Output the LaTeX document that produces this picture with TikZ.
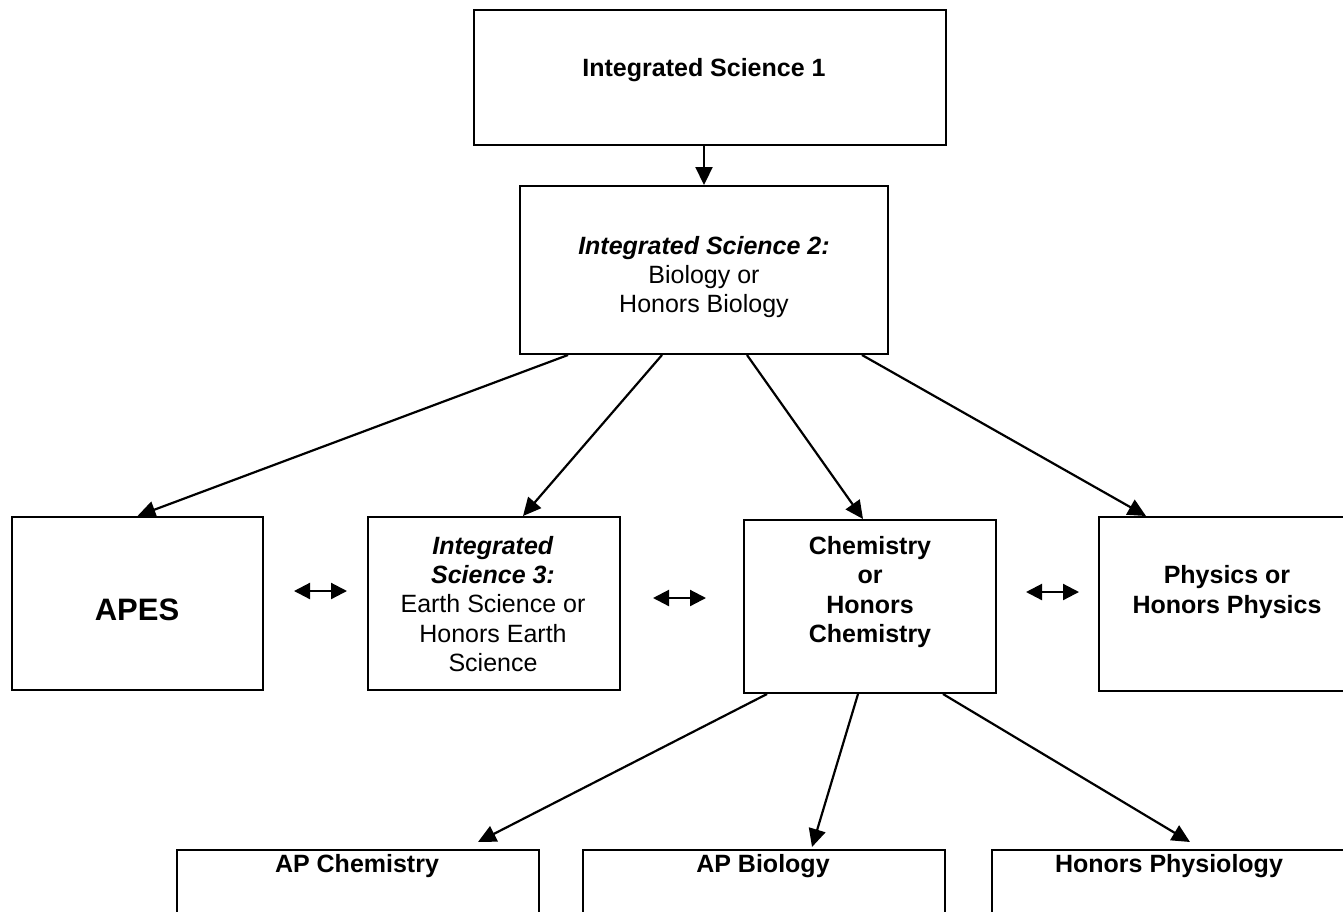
\documentclass[tikz,border=0pt]{standalone}
\usepackage{fontspec}
\setmainfont{Liberation Sans}
\usepackage{tikz}
\usetikzlibrary{arrows.meta}

\begin{document}
\begin{tikzpicture}[x=0.5pt, y=-0.5pt,
    box/.style={draw, line width=1pt, inner sep=0pt},
    txt/.style={align=center, inner sep=0pt, font=\fontsize{12.5}{14.6}\selectfont},
    arr/.style={line width=1.1pt, -{Triangle[length=9pt, width=8.5pt]}},
    both/.style={line width=1.1pt, {Triangle[length=8pt, width=8pt]}-{Triangle[length=8pt, width=8pt]}}]
            \useasboundingbox (0, 0) rectangle (1343, 911);
            \clip (0, 0) rectangle (1343, 911);

            % Boxes
            \node[box, minimum width=236pt, minimum height=67.5pt] (is1) at (710, 77.5) {};
            \node[box, minimum width=184pt, minimum height=84pt] (bio) at (704, 270) {};
            \node[box, minimum width=125.5pt, minimum height=86.5pt] (apes) at (137.5, 603.5) {};
            \node[box, minimum width=126pt, minimum height=86.5pt] (earth) at (494, 603.5) {};
            \node[box, minimum width=126pt, minimum height=86.5pt] (chem) at (870, 606.5) {};
            \node[box, minimum width=124pt, minimum height=87pt] (phys) at (1223, 604) {};
            \node[box, minimum width=181pt, minimum height=75pt] (apchem) at (358, 925) {};
            \node[box, minimum width=181pt, minimum height=75pt] (apbio) at (764, 925) {};
            \node[box, minimum width=181pt, minimum height=75pt] (physio) at (1173, 925) {};

            % Texts
            \node[txt] (is1t) at (704, 70) {\textbf{Integrated Science 1}};
            \node[txt] (biot) at (704, 277) {\textbf{\textit{Integrated Science 2:}}\\Biology or\\Honors Biology};
            \node[txt, font=\fontsize{15.5}{18}\selectfont\bfseries] (apest) at (137, 610) {APES};
            \node[txt] (eartht) at (493, 604) {\textbf{\textit{Integrated}}\\\textbf{\textit{Science 3:}}\\Earth Science or\\Honors Earth\\Science};
            \node[txt, font=\fontsize{12.5}{14.6}\selectfont\bfseries] (chemt) at (870, 592) {Chemistry\\or\\Honors\\Chemistry};
            \node[txt, font=\fontsize{12.5}{14.6}\selectfont\bfseries] (physt) at (1227, 592) {Physics or\\Honors Physics};
            \node[txt] (apchemt) at (357, 866) {\textbf{AP Chemistry}};
            \node[txt] (apbiot) at (763, 866) {\textbf{AP Biology}};
            \node[txt] (physiot) at (1169, 866) {\textbf{Honors Physiology}};

            % Arrows
            \draw[arr] ([xshift=-3pt]is1.south) -- (bio.north);
            \draw[arr] ([xshift=-68pt]bio.south) -- (apes.north);
            \draw[arr] ([xshift=-21pt]bio.south) -- ([xshift=14.5pt]earth.north);
            \draw[arr] ([xshift=21.5pt]bio.south) -- ([xshift=-3.5pt]chem.north);
            \draw[arr] ([xshift=79pt]bio.south) -- ([xshift=-38.5pt]phys.north);
            \draw[arr] ([xshift=-51.5pt]chem.south) -- ([xshift=60pt, yshift=3.5pt]apchem.north);
            \draw[arr] ([xshift=-6pt]chem.south) -- ([xshift=24pt, yshift=1pt]apbio.north);
            \draw[arr] ([xshift=36.5pt]chem.south) -- ([xshift=8.5pt, yshift=3.5pt]physio.north);

            % Double arrows between the middle row
            \draw[both] ([xshift=15pt, yshift=6.25pt]apes.east) -- ([xshift=-10pt, yshift=6.25pt]earth.west);
            \draw[both] ([xshift=16pt, yshift=2.75pt]earth.east) -- ([xshift=-18.5pt, yshift=4.25pt]chem.west);
            \draw[both] ([xshift=14.5pt, yshift=7.25pt]chem.east) -- ([xshift=-9.5pt, yshift=6pt]phys.west);
        \end{tikzpicture}
\end{document}
